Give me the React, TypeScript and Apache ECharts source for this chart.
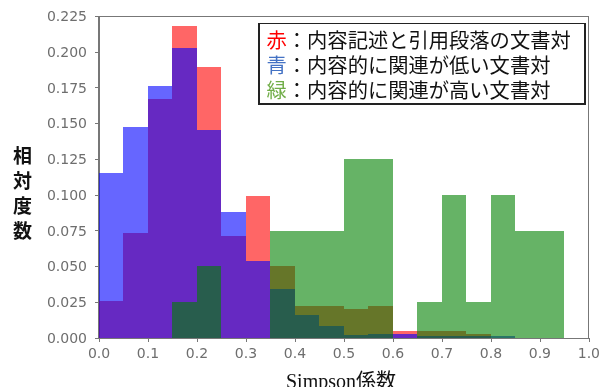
import React, { useEffect, useRef } from "react";
import * as echarts from "echarts";

// 20 bins of width 0.05 from 0.0 to 1.0
const binLabels = [
  "0.00", "0.05", "0.10", "0.15", "0.20", "0.25", "0.30", "0.35", "0.40", "0.45",
  "0.50", "0.55", "0.60", "0.65", "0.70", "0.75", "0.80", "0.85", "0.90", "0.95",
];
// 赤: 内容記述と引用段落の文書対
const redValues = [
  0.026, 0.0732, 0.1671, 0.2178, 0.1897, 0.0714, 0.099, 0.0504, 0.0221, 0.0221,
  0.0202, 0.0221, 0.0051, 0.0047, 0.0047, 0.0028, 0, 0, 0, 0,
];
// 青: 内容的に関連が低い文書対
const blueValues = [
  0.1155, 0.1474, 0.1762, 0.2023, 0.1455, 0.0883, 0.0537, 0.0342, 0.0158, 0.0081,
  0.0023, 0.003, 0.0025, 0.0013, 0.0013, 0.0013, 0.0013, 0, 0, 0,
];
// 緑: 内容的に関連が高い文書対
const greenValues = [
  0, 0, 0, 0.025, 0.05, 0, 0, 0.075, 0.075, 0.075,
  0.125, 0.125, 0, 0.025, 0.1, 0.025, 0.1, 0.075, 0.075, 0,
];
const legendKeys = ["赤", "青", "緑"];
const legendTexts = [
  "：内容記述と引用段落の文書対",
  "：内容的に関連が低い文書対",
  "：内容的に関連が高い文書対",
];
const legendKeyColors = ["#ff0000", "#4472c4", "#70ad47"];
const yAxisTitle = "相\n対\n度\n数";
const xAxisTitle = "Simpson係数";

export default function App() {
  const ref = useRef<HTMLDivElement>(null);
  useEffect(() => {
    if (!ref.current) return;
    const chart = echarts.init(ref.current, undefined, { renderer: "svg" });
    const axisColor = "#777";
    const labelColor = "#6e6e6e";
    const tickFont = "DejaVu Sans";
    const cjk = "'Noto Sans CJK JP', 'Noto Sans', sans-serif";

    const legendGraphics: any[] = [
      {
        type: "rect",
        shape: { x: 259, y: 23.5, width: 326, height: 80.5 },
        style: { fill: "#fff", stroke: "#222", lineWidth: 1.3 },
        z: 100,
      },
    ];
    legendKeys.forEach((k, i) => {
      const y = 38.5 + i * 25;
      legendGraphics.push({
        type: "text",
        x: 266.5,
        y,
        z: 101,
        style: {
          text: `{k|${k}}{t|${legendTexts[i]}}`,
          fontSize: 20.3,
          lineHeight: 22,
          fontFamily: cjk,
          align: "left",
          verticalAlign: "middle",
          rich: {
            k: { fill: legendKeyColors[i], fontSize: 20.3, lineHeight: 22, fontFamily: cjk },
            t: { fill: "#111", fontSize: 20.3, lineHeight: 22, fontFamily: cjk },
          },
        },
      });
    });

    const barSeries = (name: string, data: number[], color: string) => ({
      name,
      type: "bar",
      xAxisIndex: 0,
      yAxisIndex: 0,
      data,
      barGap: "-100%",
      barCategoryGap: "0%",
      itemStyle: { color },
      silent: true,
    });

    chart.setOption({
      animation: false,
      grid: {
        left: 99,
        right: 10,
        top: 16,
        bottom: 49,
        show: true,
        borderColor: axisColor,
        borderWidth: 1,
        backgroundColor: "transparent",
      },
      xAxis: [
        {
          type: "category",
          data: binLabels,
          boundaryGap: true,
          show: false,
        },
        {
          type: "value",
          position: "bottom",
          min: 0,
          max: 1,
          interval: 0.1,
          axisLine: { show: true, lineStyle: { color: axisColor } },
          axisTick: { show: true, inside: false, length: 4, lineStyle: { color: axisColor } },
          splitLine: { show: false },
          axisLabel: {
            color: labelColor,
            fontFamily: tickFont,
            fontSize: 14,
            margin: 8,
            formatter: (v: number) => v.toFixed(1),
          },
        },
      ],
      yAxis: [
        {
          type: "value",
          min: 0,
          max: 0.225,
          interval: 0.025,
          axisLine: { show: true, lineStyle: { color: axisColor } },
          axisTick: { show: true, inside: false, length: 4, lineStyle: { color: axisColor } },
          splitLine: { show: false },
          axisLabel: {
            color: labelColor,
            fontFamily: tickFont,
            fontSize: 14,
            margin: 12,
            formatter: (v: number) => v.toFixed(3),
          },
        },
      ],
      series: [
        barSeries("赤", redValues, "rgba(255,0,0,0.6)"),
        barSeries("青", blueValues, "rgba(0,0,255,0.6)"),
        barSeries("緑", greenValues, "rgba(0,128,0,0.6)"),
      ],
      graphic: [
        {
          type: "text",
          x: 22.5,
          y: 192,
          style: {
            text: yAxisTitle,
            fill: "#111",
            fontSize: 19,
            fontWeight: "bold",
            fontFamily: cjk,
            lineHeight: 25,
            align: "center",
            verticalAlign: "middle",
          },
        },
        {
          type: "text",
          x: 341,
          y: 381,
          style: {
            text: xAxisTitle,
            fill: "#111",
            fontSize: 20,
            lineHeight: 20,
            fontFamily: "'Liberation Serif', 'Noto Sans CJK JP', serif",
            align: "center",
            verticalAlign: "middle",
          },
        },
        ...legendGraphics,
      ],
    });
    return () => chart.dispose();
  }, []);
  return (
    <>
      <style>{`.hist-chart svg path { shape-rendering: crispEdges; }`}</style>
      <div
        ref={ref}
        className="hist-chart"
        style={{ position: "fixed", left: 0, top: 0, width: 603, height: 387 }}
      />
    </>
  );
}
